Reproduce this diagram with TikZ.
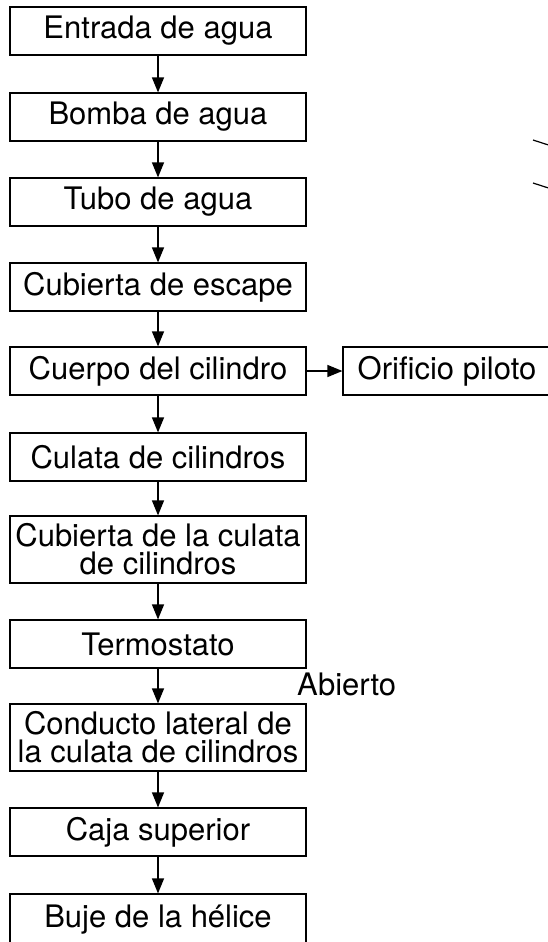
\documentclass[tikz,border=0pt]{standalone}
\usepackage{fontspec}
\setmainfont{TeX Gyre Heros}
\usetikzlibrary{arrows.meta}
\begin{document}
\begin{tikzpicture}[x=1pt,y=-1pt,
  box/.style={draw, line width=1.2pt, minimum width=296pt, minimum height=48pt,
    inner sep=0pt, align=center, font=\fontsize{31}{28}\selectfont},
  flow/.style={-{Triangle[length=15pt,width=12pt]}, line width=1.3pt},
  lbl/.style={font=\fontsize{31}{28}\selectfont, inner sep=0pt},
  tick/.style={line width=1.2pt}]
\useasboundingbox (0,0) rectangle (548,942);
\node[box] (n1) at (158,31) {Entrada de agua};
\node[box] (n2) at (158,117) {Bomba de agua};
\node[box] (n3) at (158,202) {Tubo de agua};
\node[box] (n4) at (158,287) {Cubierta de escape};
\node[box] (n5) at (158,371) {Cuerpo del cilindro};
\node[box] (n6) at (158,457) {Culata de cilindros};
\node[box, minimum height=67pt] (n7) at (158,549.5) {Cubierta de la culata\\de cilindros};
\node[box] (n8) at (158,644) {Termostato};
\node[box, minimum height=67pt] (n9) at (158,737.5) {Conducto lateral de\\la culata de cilindros};
\node[box] (n10) at (158,832) {Caja superior};
\node[box, minimum height=52pt] (n11) at (158,920) {Buje de la hélice};
\node[box, minimum width=208pt] (op) at (447,371) {Orificio piloto};
\node[lbl, anchor=base west] (ab) at (297,695) {Abierto};
\draw[flow] (n1.south) -- (n2.north);
\draw[flow] (n2.south) -- (n3.north);
\draw[flow] (n3.south) -- (n4.north);
\draw[flow] (n4.south) -- (n5.north);
\draw[flow] (n5.south) -- (n6.north);
\draw[flow] (n6.south) -- (n7.north);
\draw[flow] (n7.south) -- (n8.north);
\draw[flow] (n8.south) -- (n9.north);
\draw[flow] (n9.south) -- (n10.north);
\draw[flow] (n10.south) -- (n11.north);
\draw[flow] (n5.east) -- (op.west);
\coordinate (t1a) at (533,140);
\coordinate (t1b) at (550,145.5);
\coordinate (t2a) at (533,183);
\coordinate (t2b) at (550,188.5);
\draw[tick] (t1a) -- (t1b);
\draw[tick] (t2a) -- (t2b);
\end{tikzpicture}
\end{document}
